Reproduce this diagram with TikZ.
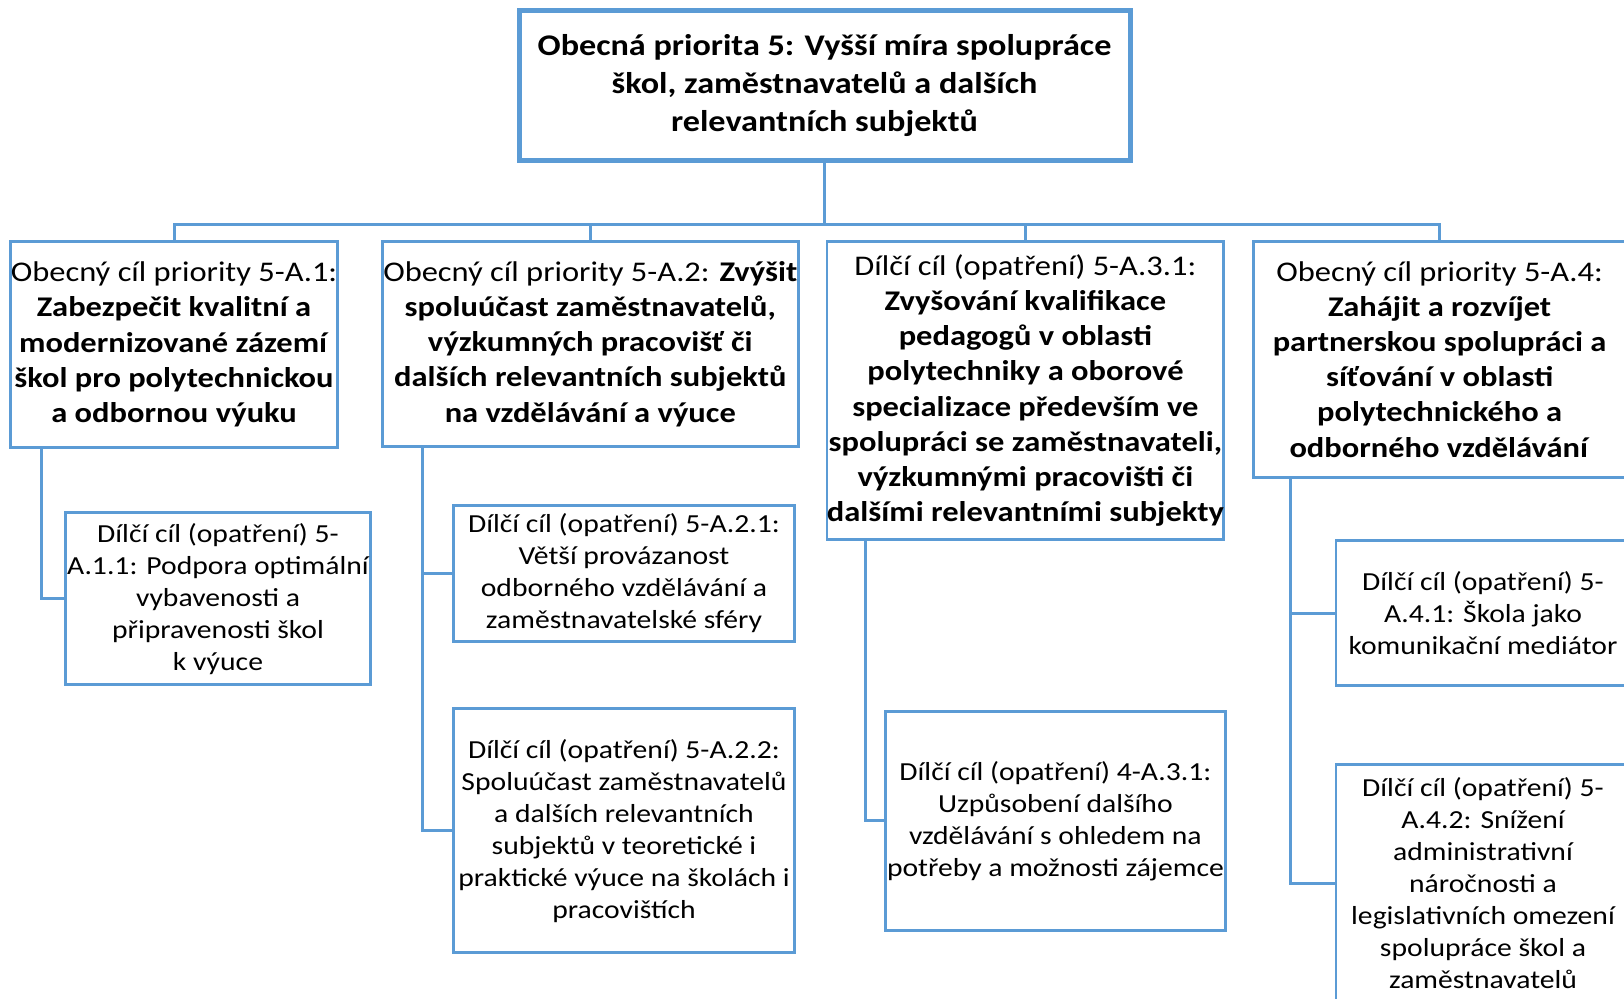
\documentclass[tikz,border=0pt]{standalone}
\usepackage{fontspec}
\setmainfont{Carlito}[FakeStretch=1.14]
\usepackage{tikz}
\usetikzlibrary{positioning}
\definecolor{boxblue}{RGB}{91,155,213}

\begin{document}
\begin{tikzpicture}[x=1pt, y=-1pt, line width=3pt, draw=boxblue]
    \tikzstyle{every node}=[align=center, inner sep=0pt, text=black]
    \tikzstyle{top}=[shape=rectangle, draw=boxblue, line width=5pt, font=\fontsize{30}{37.8}\selectfont\bfseries]
    \tikzstyle{goal}=[shape=rectangle, draw=boxblue, line width=2.8pt, font=\fontsize{28.5}{35.2}\selectfont]
    \tikzstyle{sub}=[shape=rectangle, draw=boxblue, line width=2.8pt, font=\fontsize{26}{32}\selectfont]

    \useasboundingbox (0,0) rectangle (1624,998);

    \node[top, minimum width=611, minimum height=149] (s1) at (824.5, 85.5)
        {Obecná priorita 5: Vyšší míra spolupráce\\ škol, zaměstnavatelů a dalších\\ relevantních subjektů};

        \node[goal, minimum width=327, minimum height=206] (s21) at (174, 344.4)
            {Obecný cíl priority 5-A.1:\\ \textbf{Zabezpečit kvalitní a}\\ \textbf{modernizované zázemí}\\ \textbf{škol pro polytechnickou}\\ \textbf{a odbornou výuku}};
        \node[goal, minimum width=416, minimum height=205] (s22) at (590.3, 343.9)
            {Obecný cíl priority 5-A.2: \textbf{Zvýšit}\\ \textbf{spoluúčast zaměstnavatelů,}\\ \textbf{výzkumných pracovišť či}\\ \textbf{dalších relevantních subjektů}\\ \textbf{na vzdělávání a výuce}};
        \node[goal, minimum width=396, minimum height=298] (s23) at (1025.4, 390.5)
            {Dílčí cíl (opatření) 5-A.3.1:\\ \textbf{Zvyšování kvalifikace}\\ \textbf{pedagogů v oblasti}\\ \textbf{polytechniky a oborové}\\ \textbf{specializace především ve}\\ \textbf{spolupráci se zaměstnavateli,}\\ \textbf{výzkumnými pracovišti či}\\ \textbf{dalšími relevantními subjekty}};
        \node[goal, minimum width=373, minimum height=236] (s24) at (1439.6, 359.4)
            {Obecný cíl priority 5-A.4:\\ \textbf{Zahájit a rozvíjet}\\ \textbf{partnerskou spolupráci a}\\ \textbf{síťování v oblasti}\\ \textbf{polytechnického a}\\ \textbf{odborného vzdělávání}};

            \node[sub, minimum width=305.6, minimum height=172] (s211) at (218, 598.6)
                {Dílčí cíl (opatření) 5-\\ A.1.1: Podpora optimální\\ vybavenosti a\\ připravenosti škol\\ k výuce};
            \node[sub, minimum width=340.8, minimum height=135.7] (s221) at (624, 573.3)
                {Dílčí cíl (opatření) 5-A.2.1:\\ Větší provázanost\\ odborného vzdělávání a\\ zaměstnavatelské sféry};
            \node[sub, minimum width=340.8, minimum height=244.4] (s222) at (624, 830.6)
                {Dílčí cíl (opatření) 5-A.2.2:\\ Spoluúčast zaměstnavatelů\\ a dalších relevantních\\ subjektů v teoretické i\\ praktické výuce na školách i\\ pracovištích};
            \node[sub, minimum width=339.7, minimum height=218.6] (s231) at (1055.4, 820.8)
                {Dílčí cíl (opatření) 4-A.3.1:\\ Uzpůsobení dalšího\\ vzdělávání s ohledem na\\ potřeby a možnosti zájemce};
            \node[sub, minimum width=294, minimum height=145] (s241) at (1483, 613.1)
                {Dílčí cíl (opatření) 5-\\ A.4.1: Škola jako\\ komunikační mediátor};
            \node[sub, minimum width=294, minimum height=238] (s242) at (1483, 883.4)
                {Dílčí cíl (opatření) 5-\\ A.4.2: Snížení\\ administrativní\\ náročnosti a\\ legislativních omezení\\ spolupráce škol a\\ zaměstnavatelů};

    \coordinate (bus) at (824.5, 224);

    \draw (s1.south) -- (bus);
    \draw (bus) -| (s21.north);
    \draw (bus) -| (s22.north);
    \draw (bus) -| (s23.north);
    \draw (bus) -| (s24.north);

    \draw ([xshift=32pt]s21.south west) |- (s211.west);
    \draw ([xshift=41.4pt]s22.south west) |- (s221.west);
    \draw ([xshift=41.4pt]s22.south west) |- (s222.west);
    \draw ([xshift=40.4pt]s23.south west) |- (s231.west);
    \draw ([xshift=38.3pt]s24.south west) |- (s241.west);
    \draw ([xshift=38.3pt]s24.south west) |- (s242.west);

\end{tikzpicture}
\end{document}
